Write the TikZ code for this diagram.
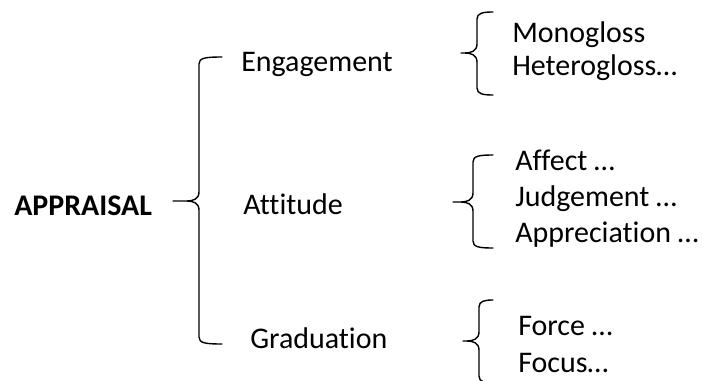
\documentclass[tikz,border=0pt]{standalone}
\usepackage{fontspec}
\setmainfont{Carlito}[RawFeature={-liga}]
\usepackage{tikz}

\tikzset{
  term/.style={anchor=base west, inner sep=0pt, font=\fontsize{21.3}{26}\selectfont},
  rootterm/.style={term, font=\fontsize{21.3}{26}\selectfont\bfseries},
  bracestyle/.style={line width=1pt, line cap=round}
}

% #1 x of the stem, #2 x of the arm ends, #3 x of the tip,
% #4 top y, #5 tip y, #6 bottom y
\newcommand{\openbrace}[6]{%
  \draw[bracestyle] (#2,#4) .. controls (#1+6,#4) and (#1,#4+1) .. (#1,#4+7)
    -- (#1,#5-9) .. controls (#1,#5-2) and (#1-6,#5) .. (#1-12,#5) -- (#3,#5)
    (#1-12,#5) .. controls (#1-6,#5) and (#1,#5+2) .. (#1,#5+9)
    -- (#1,#6-7) .. controls (#1,#6-1) and (#1+6,#6) .. (#2,#6);}

\begin{document}
\begin{tikzpicture}[x=0.025cm, y=-0.025cm]

\useasboundingbox (0,0) rectangle (703,381);
\clip (0,0) rectangle (703,381);

% Root
\node[rootterm] (appraisal) at (14,215) {APPRAISAL};

% First level
\node[term] (engagement) at (241,72) {Engagement};
\node[term] (attitude) at (243,214) {Attitude};
\node[term] (graduation) at (250,348) {Graduation};

% Second level
\node[term] (monogloss) at (512,43) {Monogloss};
\node[term] (heterogloss) at (512,75) {Heterogloss…};

\node[term] (affect) at (515,170) {Affect …};
\node[term] (judgement) at (515,206) {Judgement …};
\node[term] (appreciation) at (515,242) {Appreciation …};

\node[term] (force) at (518,335) {Force …};
\node[term] (focus) at (518,372) {Focus…};

% Braces
\openbrace{199}{222}{173}{57}{201}{344}
\openbrace{477}{493}{461}{12}{53}{95}
\openbrace{473}{493}{453}{155}{202}{248}
\openbrace{479}{493}{463}{300}{341}{383}

\end{tikzpicture}
\end{document}
